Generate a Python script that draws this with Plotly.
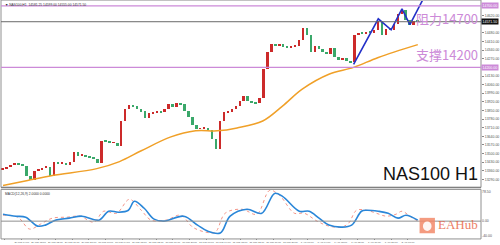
import plotly.graph_objects as go

# ---------------- data ----------------
closes = [13377, 13393, 13409, 13418, 13409, 13402, 13313, 13281, 13361, 13369,
          13385, 13393, 13321, 13434, 13418, 13426, 13409, 13434, 13514, 13482,
          13490, 13474, 13466, 13458, 13426, 13603, 13595, 13587, 13587, 13563,
          13764, 13861, 13894, 13885, 13861, 13845, 13789, 13829, 13837, 13845,
          13837, 13861, 13902, 13877, 13910, 13902, 13845, 13797, 13732, 13700,
          13700, 13708, 13692, 13619, 13539, 13764, 13837, 13845, 13861, 13885,
          13926, 13966, 13926, 13918, 13910, 13950, 14184, 14329, 14394, 14377,
          14394, 14369, 14361, 14369, 14377, 14426, 14523, 14466, 14329, 14377,
          14353, 14329, 14313, 14361, 14281, 14264, 14273, 14256, 14240, 14466,
          14482, 14474, 14490, 14482, 14506, 14579, 14466, 14515, 14506, 14555,
          14635, 14668, 14587, 14547, 14579, 14571]
first_open = 13370

ma_x = [0, 6.25, 12.5, 23.75, 29.5, 35, 42.5, 48.75, 54.25, 59.25, 65.75, 70.75, 75.75, 82.5, 88.75, 95, 105]
ma_vals = [13240, 13281, 13321, 13377, 13434, 13522, 13635, 13684, 13684, 13708, 13764, 13885, 14023, 14144, 14200, 14281, 14385]

zz_x = [88.75, 95, 98.25, 101, 103, 105.5, 106.5]
zz_vals = [14224, 14595, 14506, 14676, 14547, 14708, 14765]

macd_x = [0, 3.25, 5.75, 8.75, 10.75, 13.25, 16.75, 20, 24.25, 26.75, 29.25, 31.75, 33.25,
          35.75, 38.25, 40.75, 45.75, 49.25, 51.75, 55, 57.5, 61.75, 65.5, 68.75, 70.75, 75,
          77.5, 80, 82.5, 85.75, 88.25, 90.75, 92, 95, 97.5, 100, 102, 105]
macd_vals = [14, 10, 8, -10, -8, 2, 6, 10, 2, 20, 18, 22, 40, 26, 4, 0, 10, -8, -20, -24,
             10, 24, 16, 56, 50, 20, 20, 6, -8, -12, -8, 20, 22, 20, 16, 6, 12, 2]

sig_x = [0, 3.75, 6.75, 9.5, 12.5, 16.25, 19.5, 23, 25.5, 28.75, 32, 35, 37.5, 41.25, 45,
         48, 51.25, 53.75, 56.25, 60.5, 64.25, 67.5, 70, 73.75, 76.25, 79.5, 82.5, 85.75,
         87.5, 89.5, 92, 94.5, 97, 99.5, 101, 103, 105]
sig_vals = [12, 8, -16, -6, 6, 8, 10, -2, 20, 16, 44, 22, 2, 2, 12, -12, -22, -22, 16, 24,
            14, 62, 52, 16, 16, 0, -10, -12, -4, 22, 22, 16, 10, 14, 20, 10, 0]

time_labels = ["29 Mar 2021", "29 Mar 04:00", "29 Mar 08:00", "29 Mar 12:00", "29 Mar 16:00",
               "29 Mar 20:00", "30 Mar 00:00", "30 Mar 04:00", "30 Mar 08:00", "30 Mar 12:00",
               "30 Mar 16:00", "30 Mar 20:00", "31 Mar 00:00", "31 Mar 04:00", "31 Mar 08:00",
               "31 Mar 12:00", "31 Mar 16:00", "31 Mar 20:00", "1 Apr 00:00", "1 Apr 04:00",
               "1 Apr 08:00", "1 Apr 12:00", "1 Apr 16:00", "1 Apr 20:00", "2 Apr 00:00"]

resistance = 14700
support = 14200
last_price = 14571.5
header = "▼ NAS100,H1  14581.25 14599.00 14555.00 14571.50"
osc_header = "MACD(12,26,9) 2.0000 0.0000"

# ---------------- build ----------------
opens = [first_open] + closes[:-1]
idx = list(range(len(closes)))
UP, DN = "#cc2a2a", "#3aa86a"
body_base = [min(o, c) for o, c in zip(opens, closes)]
body_len = [max(abs(c - o), 4) for o, c in zip(opens, closes)]
body_col = [UP if c >= o else DN for o, c in zip(opens, closes)]

PINK = "#cc8ad8"
fig = go.Figure()
fig.add_trace(go.Bar(x=idx, y=body_len, base=body_base, width=0.5, marker=dict(color=body_col, line=dict(width=0)),
                     xaxis="x", yaxis="y", showlegend=False, hoverinfo="skip"))
fig.add_trace(go.Scatter(x=ma_x, y=ma_vals, mode="lines", line=dict(color="#f0a028", width=1.5, shape="spline"),
                         xaxis="x", yaxis="y", showlegend=False, hoverinfo="skip"))
fig.add_trace(go.Scatter(x=zz_x, y=zz_vals, mode="lines", line=dict(color="#2431c8", width=1.6),
                         xaxis="x", yaxis="y", showlegend=False, hoverinfo="skip"))
fig.add_trace(go.Scatter(x=sig_x, y=sig_vals, mode="lines", line=dict(color="#f07a6a", width=0.8, shape="spline", dash="dot"),
                         xaxis="x2", yaxis="y2", showlegend=False, hoverinfo="skip"))
fig.add_trace(go.Scatter(x=macd_x, y=macd_vals, mode="lines", line=dict(color="#2a86d8", width=1.6, shape="spline"),
                         xaxis="x2", yaxis="y2", showlegend=False, hoverinfo="skip"))

xr = [-0.5, 121.0]
tickvals = [0.5 + 4.25 * k for k in range(len(time_labels))]
main_dom = [0.2134, 1.0]
osc_dom = [0.0, 0.205]
price_ticks = [v for v in range(13220, 14741, 70) if abs(v - resistance) > 40 and abs(v - support) > 40 and abs(v - last_price) > 40]

fig.update_layout(
    width=500, height=245,
    margin=dict(l=1, r=13, t=1, b=5),
    paper_bgcolor="white", plot_bgcolor="white",
    font=dict(family="Liberation Sans, Arial, sans-serif", color="#222"),
    bargap=0,
    xaxis=dict(domain=[0, 1], range=xr, showticklabels=False, showgrid=False, zeroline=False,
               anchor="y", fixedrange=True),
    yaxis=dict(domain=main_dom, range=[13224, 14740], side="right", showgrid=False, zeroline=False,
               tickvals=price_ticks, tickformat=".2f", tickfont=dict(size=3.5, color="#555"),
               ticks="outside", ticklen=2, tickcolor="#888", anchor="x"),
    xaxis2=dict(domain=[0, 1], range=xr, tickvals=tickvals, ticktext=time_labels, tickangle=0,
                tickfont=dict(size=2.5, color="#555"), showgrid=False, zeroline=False, anchor="y2",
                ticks="outside", ticklen=1, tickcolor="#888"),
    yaxis2=dict(domain=osc_dom, range=[-34, 64], side="right", showgrid=False, zeroline=False,
                tickvals=[60, 0, -30], ticktext=["78.50", "0.00", "-40.00"],
                tickfont=dict(size=3.5, color="#555"), anchor="x2"),
)

shapes = []
shapes.append(dict(type="rect", xref="paper", yref="paper", x0=0, x1=1, y0=main_dom[0], y1=1.004,
                   line=dict(color="#909090", width=1)))
shapes.append(dict(type="rect", xref="paper", yref="paper", x0=0, x1=1, y0=-0.004, y1=osc_dom[1],
                   line=dict(color="#909090", width=1)))
shapes.append(dict(type="line", xref="paper", yref="paper", x0=0, x1=1, y0=main_dom[0], y1=main_dom[0],
                   line=dict(color="#808080", width=1.5)))
for lvl, col, w in [(resistance, PINK, 1.2), (support, PINK, 1.2), (last_price, "#6a6a6a", 1)]:
    shapes.append(dict(type="line", xref="x domain", yref="y", x0=0, x1=1, y0=lvl, y1=lvl,
                       line=dict(color=col, width=w)))
shapes.append(dict(type="line", xref="x2 domain", yref="y2", x0=0, x1=1, y0=0, y1=0,
                   line=dict(color="#909090", width=1)))
shapes.append(dict(type="rect", xref="paper", yref="paper", x0=0.872, x1=0.904, y0=0.02, y1=0.085,
                   fillcolor="#f28a6a", line=dict(width=0), opacity=0.85, layer="above"))
shapes.append(dict(type="circle", xref="paper", yref="paper", x0=0.879, x1=0.897, y0=0.03, y1=0.07,
                   fillcolor="white", line=dict(width=0), opacity=0.9, layer="above"))
fig.update_layout(shapes=shapes)

ann = []
ann.append(dict(text="阻力14700", xref="paper", yref="y", x=0.997, y=resistance, xanchor="right", yanchor="top",
                yshift=-1, showarrow=False, font=dict(size=13, color=PINK, family="Noto Sans CJK SC")))
ann.append(dict(text="支撑14200", xref="paper", yref="y", x=0.997, y=support, xanchor="right", yanchor="bottom",
                yshift=1, showarrow=False, font=dict(size=13, color=PINK, family="Noto Sans CJK SC")))
ann.append(dict(text="NAS100 H1", xref="paper", yref="paper", x=0.997, y=main_dom[0] + 0.006, xanchor="right",
                yanchor="bottom", showarrow=False, font=dict(size=18, color="#111", family="Liberation Sans")))
ann.append(dict(text=header, xref="paper", yref="paper", x=0.004, y=1.0, xanchor="left", yanchor="top",
                showarrow=False, font=dict(size=3.3, color="#333")))
ann.append(dict(text=osc_header, xref="paper", yref="paper", x=0.004, y=osc_dom[1] - 0.004, xanchor="left",
                yanchor="top", showarrow=False, font=dict(size=3.3, color="#333")))
for lvl, bg in [(resistance, PINK), (support, PINK), (last_price, "#111")]:
    ann.append(dict(text=f"{lvl:.2f}", xref="paper", yref="y", x=1.0, y=lvl, xanchor="left", yanchor="middle",
                    showarrow=False, bgcolor=bg, borderpad=0.5, font=dict(size=3.5, color="white")))
ann.append(dict(text="EAHub", xref="paper", yref="paper", x=0.907, y=0.015, xanchor="left", yanchor="bottom",
                showarrow=False, opacity=0.8, font=dict(size=13, color="#e8603c", family="Liberation Serif")))
fig.update_layout(annotations=ann)

fig.write_html("out.html")
